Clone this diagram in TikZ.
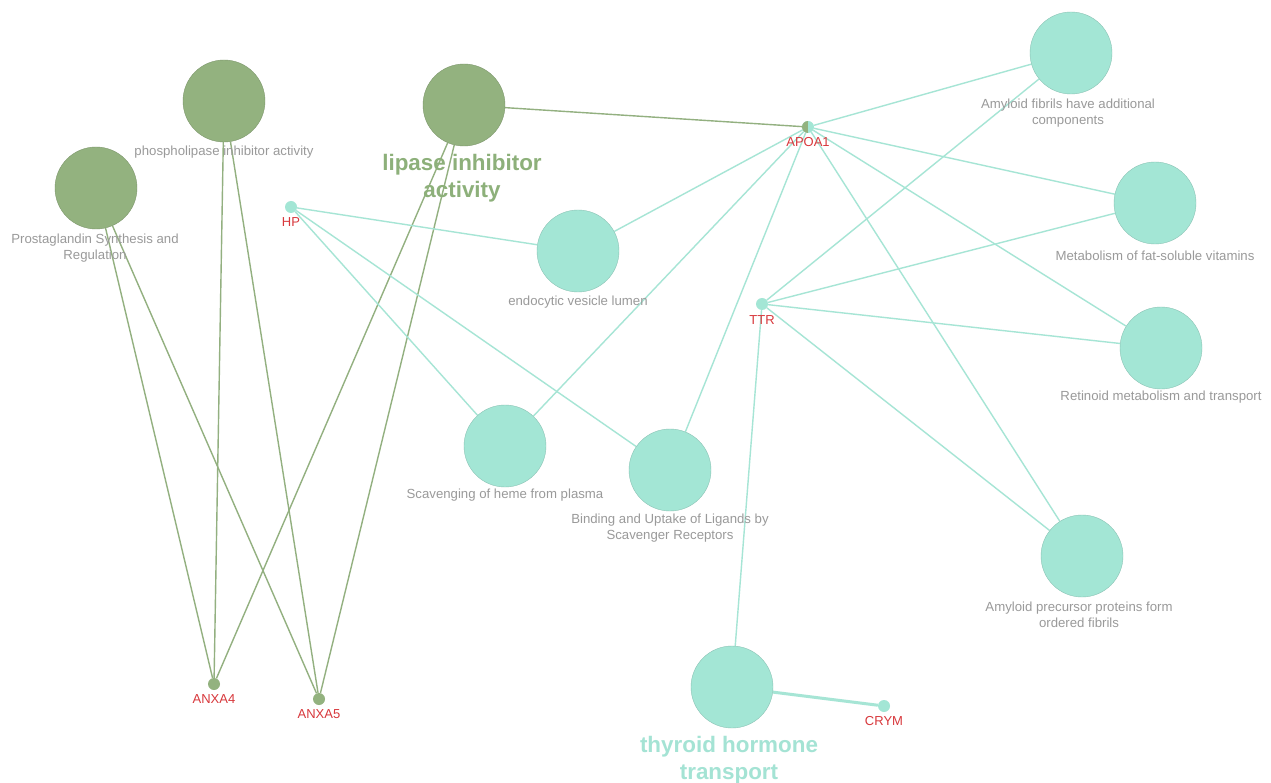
\documentclass[tikz,border=0pt]{standalone}
\usepackage{fontspec}
\setmainfont{Liberation Sans}
\definecolor{gfill}{HTML}{93B27F}
\definecolor{gline}{HTML}{93B080}
\definecolor{tfill}{HTML}{A3E6D5}
\definecolor{tline}{HTML}{A6E5D5}
\definecolor{glabel}{HTML}{9A9A9A}
\definecolor{rlabel}{HTML}{D8383C}
\definecolor{bigg}{HTML}{8DB07A}
\definecolor{bigt}{HTML}{A4E3D4}
\pgfdeclarelayer{bg}
\pgfsetlayers{bg,main}
\tikzset{
  gbig/.style={circle,fill=gfill,draw=gfill!85!black,line width=0.4pt,minimum size=82pt,inner sep=0pt},
  tbig/.style={circle,fill=tfill,draw=tfill!85!black,line width=0.4pt,minimum size=82pt,inner sep=0pt},
  gsmall/.style={circle,fill=gfill,minimum size=12pt,inner sep=0pt},
  tsmall/.style={circle,fill=tfill,minimum size=12pt,inner sep=0pt},
  glab/.style={text=glabel,font=\fontsize{13.2}{16.5}\selectfont,align=center,inner sep=0pt},
  rlab/.style={text=rlabel,font=\fontsize{13}{15}\selectfont,inner sep=0pt},
  biglab/.style={font=\fontsize{22.4}{27}\selectfont\bfseries,align=center,inner sep=0pt},
  gedge/.style={draw=gline,line width=1.4pt},
  tedge/.style={draw=tline,line width=1.4pt},
}
\begin{document}
\begin{tikzpicture}[x=1pt,y=-1pt]
\begin{pgfonlayer}{bg}
\fill[white] (0,0) rectangle (1271,783);
\end{pgfonlayer}
\useasboundingbox (0,0) rectangle (1271,783);
% nodes (circles)
\node[gbig] (prost) at (96,188) {};
\node[gbig] (phos) at (224,101) {};
\node[gbig] (lip) at (464,105) {};
\node[tbig] (amyf) at (1071,53) {};
\node[tbig] (metab) at (1155,203) {};
\node[tbig] (retin) at (1161,348) {};
\node[tbig] (amyp) at (1082,556) {};
\node[tbig] (endo) at (578,251) {};
\node[tbig] (scav) at (505,446) {};
\node[tbig] (bind) at (670,470) {};
\node[tbig] (thyr) at (732,687) {};
\node[tsmall,path picture={\fill[gfill] (path picture bounding box.south west) rectangle (path picture bounding box.north);}] (apoa) at (808,127) {};
\node[tsmall] (hp) at (291,207) {};
\node[tsmall] (ttr) at (762,304) {};
\node[tsmall] (crym) at (884,706) {};
\node[gsmall] (anx4) at (214,684) {};
\node[gsmall] (anx5) at (319,699) {};
% edges
\begin{pgfonlayer}{bg}
\draw[gedge] (lip) -- (apoa);
\draw[gedge] (prost) -- (anx4);
\draw[gedge] (prost) -- (anx5);
\draw[gedge] (phos) -- (anx4);
\draw[gedge] (phos) -- (anx5);
\draw[gedge] (lip) -- (anx4);
\draw[gedge] (lip) -- (anx5);
\draw[tedge] (hp) -- (endo);
\draw[tedge] (hp) -- (scav);
\draw[tedge] (hp) -- (bind);
\draw[tedge] (apoa) -- (amyf);
\draw[tedge] (apoa) -- (metab);
\draw[tedge] (apoa) -- (retin);
\draw[tedge] (apoa) -- (amyp);
\draw[tedge] (apoa) -- (endo);
\draw[tedge] (apoa) -- (scav);
\draw[tedge] (apoa) -- (bind);
\draw[tedge] (ttr) -- (amyf);
\draw[tedge] (ttr) -- (metab);
\draw[tedge] (ttr) -- (retin);
\draw[tedge] (ttr) -- (amyp);
\draw[tedge] (ttr) -- (thyr);
\draw[draw=tline,line width=3pt] (thyr) -- (crym);
\end{pgfonlayer}
% labels
\node[glab] (lprost) at (95,248) {Prostaglandin Synthesis and\\Regulation};
\node[glab] (lphos) at (224,152) {phospholipase inhibitor activity};
\node[biglab,text=bigg] (llip) at (462,178) {lipase inhibitor\\activity};
\node[glab] (lamyf) at (1068,113) {Amyloid fibrils have additional\\components};
\node[glab] (lmetab) at (1155,256) {Metabolism of fat-soluble vitamins};
\node[glab] (lretin) at (1161,397) {Retinoid metabolism and transport};
\node[glab] (lamyp) at (1079,615) {Amyloid precursor proteins form\\ordered fibrils};
\node[glab] (lendo) at (578,302) {endocytic vesicle lumen};
\node[glab] (lscav) at (505,495) {Scavenging of heme from plasma};
\node[glab] (lbind) at (670,528) {Binding and Uptake of Ligands by\\Scavenger Receptors};
\node[biglab,text=bigt] (lthyr) at (729,760) {thyroid hormone\\transport};
\node[rlab] (lapoa) at (808,142) {APOA1};
\node[rlab] (lhp) at (291,222) {HP};
\node[rlab] (lttr) at (762,320) {TTR};
\node[rlab] (lcrym) at (884,721) {CRYM};
\node[rlab] (lanx4) at (214,699) {ANXA4};
\node[rlab] (lanx5) at (319,714) {ANXA5};
\end{tikzpicture}
\end{document}
